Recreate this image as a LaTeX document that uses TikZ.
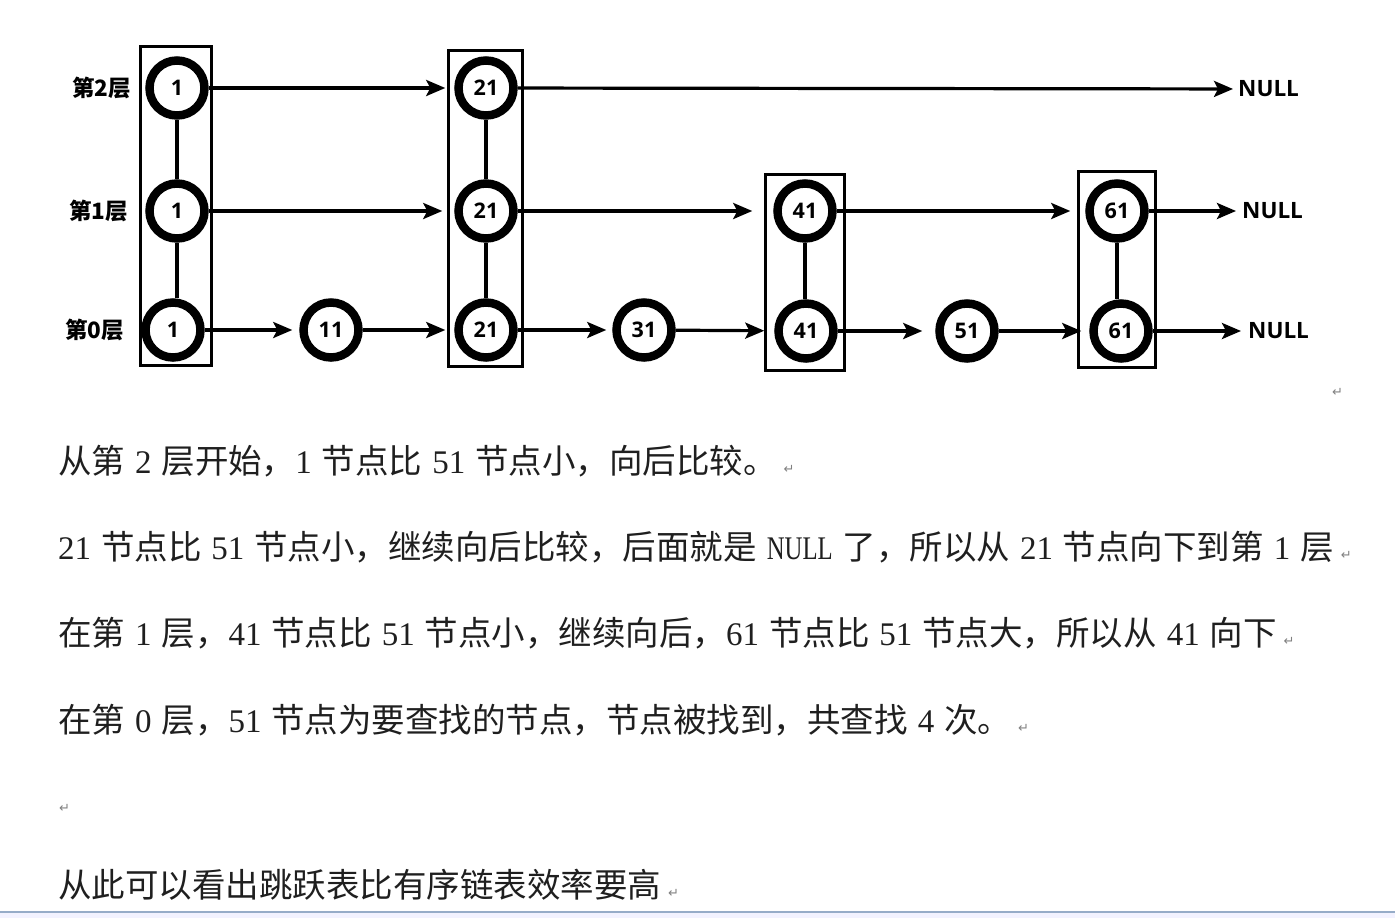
\documentclass[tikz,border=0pt]{standalone}
\usepackage{fontspec}
\setmainfont{Liberation Serif}
\newfontfamily\cjk{Noto Sans CJK SC}
\newfontfamily\latfont{Liberation Serif}[WordSpace={1.2,0,0}]
\newfontfamily\narrowlat{Liberation Serif}[FakeStretch=0.75]
\newfontfamily\labfont{Open Sans}
\newfontfamily\symfont{DejaVu Sans}
\usetikzlibrary{arrows.meta}

\newcommand\zh[1]{{\cjk\fontsize{33.5}{33.5}\selectfont #1}}
\newcommand\nulltext{{\narrowlat NULL}}
\newcommand\pmark{\hspace{7pt}{\symfont\fontsize{13}{13}\selectfont\color{gray}↵}}

\tikzset{
  lvl/.style={circle, draw, line width=8.5pt, minimum size=55pt, inner sep=0pt,
    font=\labfont\bfseries\fontsize{21.5}{21.5}\selectfont},
  tower/.style={draw, line width=3pt},
  link/.style={line width=3.5pt},
  nxt/.style={line width=3.2pt, -{Stealth[length=19pt,width=16pt,inset=4pt]}},
  layer/.style={anchor=east, inner sep=0pt, font=\cjk\bfseries\fontsize{22.5}{22.5}\selectfont},
  nul/.style={anchor=west, inner sep=0pt, font=\labfont\bfseries\fontsize{22.5}{22.5}\selectfont},
  txt/.style={anchor=base west, inner sep=0pt, text=black!88,
    font=\latfont\fontsize{33}{33}\selectfont},
}

\begin{document}
\begin{tikzpicture}[x=1pt,y=-1pt]
\useasboundingbox (0,0) rectangle (1395,918);

% bottom edge of the window
\fill[blue!5] (0,912) rectangle (1395,918);
\draw[line width=2pt, color={rgb,255:red,150;green,172;blue,200}] (0,912) -- (1395,912);

% towers
\draw[tower] (140,46) rectangle (211,365);
\draw[tower] (448,50) rectangle (522,366);
\draw[tower] (765,174) rectangle (844,370);
\draw[tower] (1078,171) rectangle (1155,367);

% layer labels
\node[layer] (lab2) at (131,88) {第2层};
\node[layer] (lab1) at (128,211) {第1层};
\node[layer] (lab0) at (124,330) {第0层};

% nodes
\node[lvl] (c2-1) at (177,88) {1};
\node[lvl] (c1-1) at (177,211) {1};
\node[lvl] (c0-1) at (173,330) {1};
\node[lvl] (c0-11) at (331,330) {11};
\node[lvl] (c2-21) at (486,88) {21};
\node[lvl] (c1-21) at (486,211) {21};
\node[lvl] (c0-21) at (486,330) {21};
\node[lvl] (c0-31) at (644,330) {31};
\node[lvl] (c1-41) at (805,211) {41};
\node[lvl] (c0-41) at (806,331) {41};
\node[lvl] (c0-51) at (967,331) {51};
\node[lvl] (c1-61) at (1117,211) {61};
\node[lvl] (c0-61) at (1121,331) {61};

\node[nul] (nul2) at (1238,89) {NULL};
\node[nul] (nul1) at (1242,211) {NULL};
\node[nul] (nul0) at (1248,331) {NULL};

% links inside a tower
\draw[link] (c2-1) -- (c1-1) -- (c1-1 |- c0-1.north);
\draw[link] (c2-21) -- (c1-21) -- (c0-21);
\draw[link] (c1-41) -- (c1-41 |- c0-41.north);
\draw[link] (c1-61) -- (c1-61 |- c0-61.north);

% forward pointers
\foreach \a/\b/\s in {c2-1/c2-21/9, c2-21/nul2/5,
    c1-1/c1-21/12, c1-21/c1-41/21, c1-41/c1-61/15, c1-61/nul1/6,
    c0-1/c0-11/7, c0-11/c0-21/9, c0-21/c0-31/6, c0-31/c0-41/10,
    c0-41/c0-51/13, c0-51/c0-61/8, c0-61/nul0/7}
  \draw[nxt, shorten >=\s pt] (\a) -- (\b);

\node[anchor=base west, inner sep=0pt] (pm0) at (1325,396) {\pmark};

% explanation
\node[txt] (t1) at (58,473) {\zh{从第} 2 \zh{层开始，}1 \zh{节点比} 51 \zh{节点小，向后比较。}\pmark};
\node[txt] (t2) at (58,559) {21 \zh{节点比} 51 \zh{节点小，继续向后比较，后面就是} \nulltext{} \zh{了，所以从} 21 \zh{节点向下到第} 1 \zh{层}\pmark};
\node[txt] (t3) at (58,645) {\zh{在第} 1 \zh{层，}41 \zh{节点比} 51 \zh{节点小，继续向后，}61 \zh{节点比} 51 \zh{节点大，所以从} 41 \zh{向下}\pmark};
\node[txt] (t4) at (58,732) {\zh{在第} 0 \zh{层，}51 \zh{节点为要查找的节点，节点被找到，共查找} 4 \zh{次。}\pmark};
\node[txt] (t5) at (52,812) {\pmark};
\node[txt] (t6) at (58,897) {\zh{从此可以看出跳跃表比有序链表效率要高}\pmark};
\end{tikzpicture}
\end{document}
